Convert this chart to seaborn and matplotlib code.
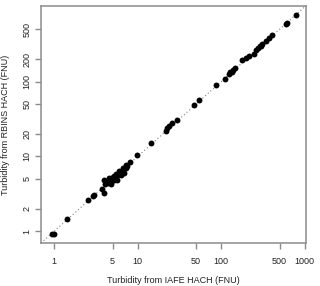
import matplotlib
matplotlib.use("Agg")
import matplotlib.pyplot as plt
import numpy as np
import pandas as pd
import seaborn as sns

sns.set_theme(style="white")
plt.rcParams["font.family"] = ["Liberation Sans", "DejaVu Sans"]

# turbidity (FNU)
iafe = [0.95, 1.0, 1.43, 2.53, 2.90, 2.99, 3.71, 3.92, 3.92, 4.03,
        4.26, 4.38, 4.50, 4.63, 4.76, 4.76, 5.02, 5.16, 5.16, 5.45,
        5.60, 5.75, 5.91, 6.07, 6.24, 6.59, 6.77, 7.15, 7.15, 7.55,
        8.19, 9.95, 14.6, 22.0, 22.6, 23.9, 25.9, 29.7, 47.4, 54.4,
        86.8, 110, 123, 127, 134, 137, 145, 180, 201, 218,
        244, 258, 273, 288, 304, 312, 349, 379, 410, 602,
        618, 790]
rbins = [0.91, 0.91, 1.45, 2.59, 2.93, 3.02, 3.63, 3.21, 4.79, 4.24,
         4.64, 4.36, 5.10, 4.79, 4.24, 4.50, 5.25, 4.79, 5.41, 5.77,
         4.79, 5.58, 6.31, 6.12, 5.58, 6.92, 5.94, 6.92, 7.59, 7.36,
         8.33, 10.3, 15.3, 22.2, 23.7, 25.9, 28.4, 31.1, 49.2, 57.5,
         91.2, 109, 127, 135, 135, 144, 154, 196, 208, 222,
         236, 267, 285, 303, 303, 322, 354, 385, 420, 594,
         612, 780]

x_ticks = [1, 5, 10, 50, 100, 500, 1000]
y_ticks = [1, 2, 5, 10, 20, 50, 100, 200, 500]

df = pd.DataFrame({"iafe": iafe, "rbins": rbins})

fig = plt.figure(figsize=(3.2, 2.86), dpi=100)
ax = fig.add_axes([0.128, 0.150, 0.828, 0.830])

# R-style 4% padding on log scale, same limits on both axes
lo = np.log10(min(min(iafe), min(rbins)))
hi = np.log10(max(max(iafe), max(rbins)))
pad = 0.04 * (hi - lo)
lims = (10 ** (lo - pad), 10 ** (hi + pad))

ax.plot(lims, lims, ls=(0, (1.0, 2.2)), color="#808080", lw=0.8, zorder=1)
sns.scatterplot(data=df, x="iafe", y="rbins", ax=ax, color="black",
                s=18, linewidth=0, zorder=2)

ax.set_xscale("log"); ax.set_yscale("log")
ax.set_xlim(lims); ax.set_ylim(lims)
ax.set_xticks(x_ticks); ax.set_xticklabels([str(t) for t in x_ticks])
ax.set_yticks(y_ticks); ax.set_yticklabels([str(t) for t in y_ticks],
                                           rotation=90, va="center")
ax.minorticks_off()

for s in ax.spines.values():
    s.set_color("#8c8c8c"); s.set_linewidth(1.1)
ax.tick_params(axis="both", which="major", direction="out", length=4,
               width=1.0, color="#8c8c8c", labelsize=6.5, labelcolor="#222222")
ax.tick_params(axis="x", bottom=True, pad=6)
ax.tick_params(axis="y", left=True, pad=3)

ax.set_xlabel("Turbidity from IAFE HACH (FNU)", fontsize=6.5, color="#222222")
ax.set_ylabel("Turbidity from RBINS HACH (FNU)", fontsize=6.5, color="#222222")
ax.xaxis.set_label_coords(0.5, -0.139)
ax.yaxis.set_label_coords(-0.118, 0.5)
ax.grid(False)

fig.savefig("out.png", dpi=100)
